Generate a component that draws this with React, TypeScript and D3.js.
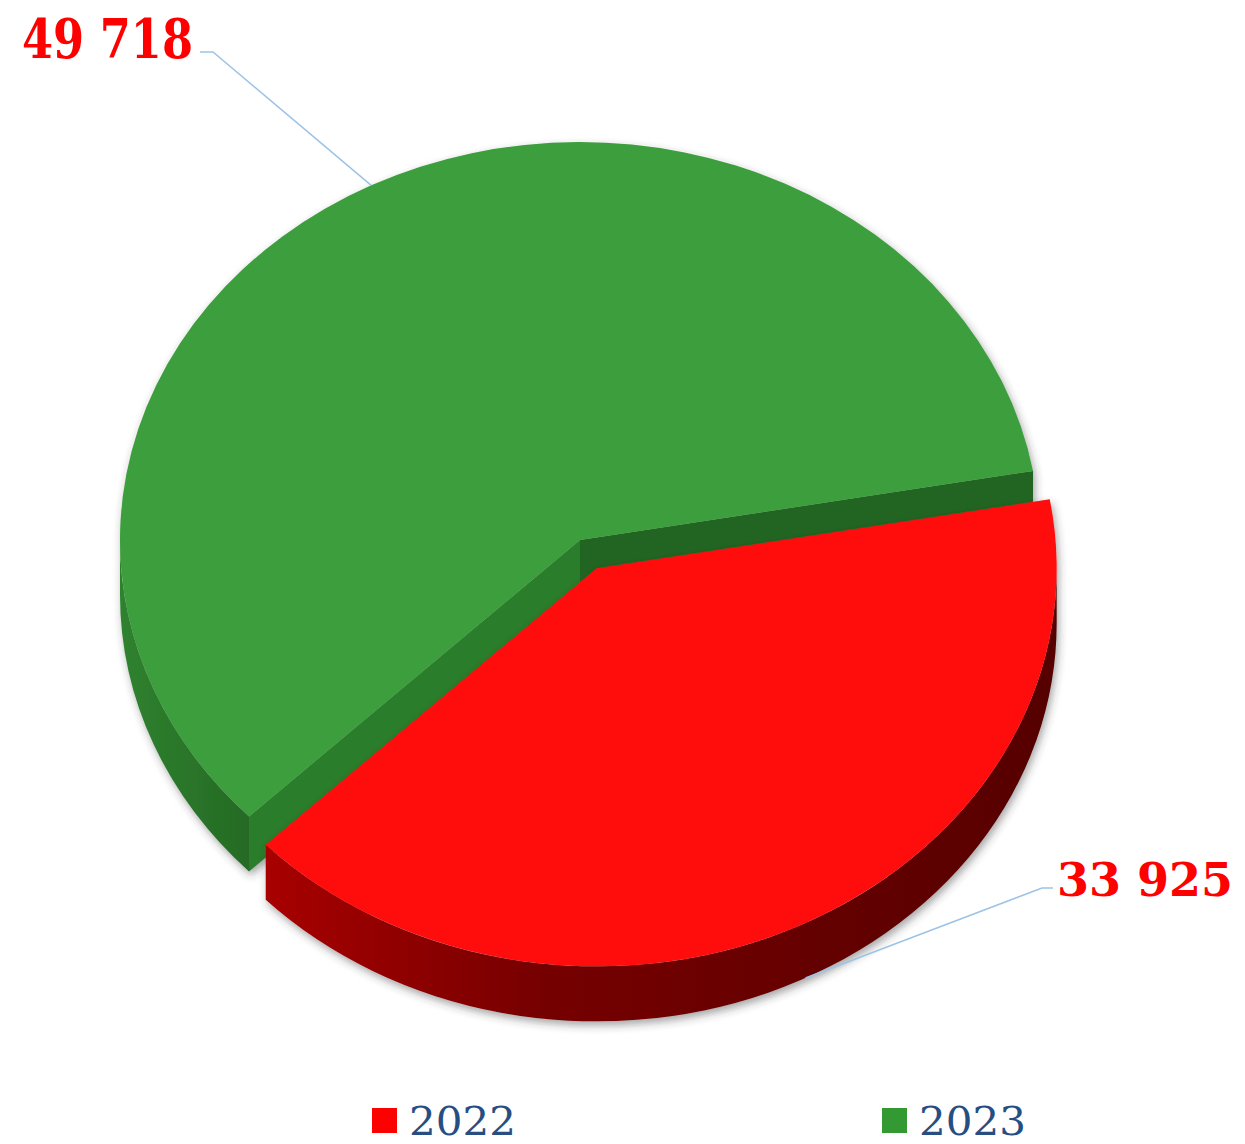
import React from "react";
import * as d3 from "d3";

const categories = ["2022", "2023"];
const values = [33925, 49718];
const labels = ["33 925", "49 718"];
const colors = ["#FF0D0D", "#3C9E3C"];
const legendColors = ["#FF0000", "#339933"];

const W = 1245;
const H = 1144;
const cx = 580;
const cy = 540;
const rx = 460;
const ry = 398;
const depth = 55;
const explodeK = 0.08;

function pt(ox: number, oy: number, t: number, dy = 0): [number, number] {
  return [ox + rx * Math.cos(t), oy + ry * Math.sin(t) + dy];
}

export default function App() {
  const pie = d3
    .pie<number>()
    .sort(null)
    .startAngle((80 * Math.PI) / 180)
    .endAngle((80 * Math.PI) / 180 + 2 * Math.PI)(values);

  const slices = pie.map((p, i) => {
    const t1 = p.startAngle - Math.PI / 2;
    const t2 = p.endAngle - Math.PI / 2;
    const m = (t1 + t2) / 2;
    const exploded = i === 0;
    const ox = cx + (exploded ? explodeK * rx * Math.cos(m) : 0);
    const oy = cy + (exploded ? explodeK * ry * Math.sin(m) : 0);
    return { i, t1, t2, m, ox, oy };
  });

  const topPath = (s: any) => {
    const a = pt(s.ox, s.oy, s.t1);
    const b = pt(s.ox, s.oy, s.t2);
    const large = s.t2 - s.t1 > Math.PI ? 1 : 0;
    return `M${s.ox},${s.oy}L${a[0]},${a[1]}A${rx},${ry} 0 ${large} 1 ${b[0]},${b[1]}Z`;
  };

  const outerWall = (s: any) => {
    const segs: [number, number][] = [];
    for (const off of [-2 * Math.PI, 0, 2 * Math.PI]) {
      const lo = Math.max(s.t1 + off, 0);
      const hi = Math.min(s.t2 + off, Math.PI);
      if (hi > lo) segs.push([lo, hi]);
    }
    return segs.map(([lo, hi]) => {
      const p1 = pt(s.ox, s.oy, lo);
      const p2 = pt(s.ox, s.oy, hi);
      const b2 = pt(s.ox, s.oy, hi, depth);
      const b1 = pt(s.ox, s.oy, lo, depth);
      return `M${p1[0]},${p1[1]}A${rx},${ry} 0 0 1 ${p2[0]},${p2[1]}L${b2[0]},${b2[1]}A${rx},${ry} 0 0 0 ${b1[0]},${b1[1]}Z`;
    });
  };

  const radialWall = (s: any, t: number) => {
    const p = pt(s.ox, s.oy, t);
    return `M${s.ox},${s.oy}L${p[0]},${p[1]}L${p[0]},${p[1] + depth}L${s.ox},${s.oy + depth}Z`;
  };

  const red = slices[0];
  const green = slices[1];

  const gAnchor = pt(green.ox, green.oy, green.m);
  const rAnchor = pt(red.ox, red.oy, red.m, depth);

  return (
    <svg
      width={W}
      height={H}
      style={{ position: "absolute", left: 0, top: 0, background: "#fff" }}
      xmlns="http://www.w3.org/2000/svg"
    >
      <defs>
        <linearGradient id="redWall" x1="0" x2="1" y1="0" y2="0">
          <stop offset="0%" stopColor="#A80000" />
          <stop offset="35%" stopColor="#760000" />
          <stop offset="100%" stopColor="#560000" />
        </linearGradient>
        <linearGradient id="greenWall" x1="0" x2="1" y1="0" y2="0">
          <stop offset="0%" stopColor="#2F822F" />
          <stop offset="100%" stopColor="#256A25" />
        </linearGradient>
        <filter id="shadow" x="-10%" y="-10%" width="120%" height="125%">
          <feDropShadow dx="2" dy="4" stdDeviation="4" floodColor="#333" floodOpacity="0.45" />
        </filter>
      </defs>

      <g filter="url(#shadow)">
        <path d={radialWall(green, green.t1)} fill="#2B7D2B" />
        <path d={radialWall(green, green.t2)} fill="#236523" />
        {outerWall(green).map((d, k) => (
          <path key={k} d={d} fill="url(#greenWall)" />
        ))}
        <path d={topPath(green)} fill={colors[1]} />
      </g>

      <g filter="url(#shadow)">
        {outerWall(red).map((d, k) => (
          <path key={k} d={d} fill="url(#redWall)" />
        ))}
        <path d={topPath(red)} fill={colors[0]} />
      </g>

      <polyline
        points={`200,52 213,52 ${gAnchor[0]},${gAnchor[1]}`}
        fill="none"
        stroke="#9DC3E6"
        strokeWidth={1.5}
      />
      <polyline
        points={`1053,888 1042,888 ${rAnchor[0]},${rAnchor[1]}`}
        fill="none"
        stroke="#9DC3E6"
        strokeWidth={1.5}
      />

      <text
        x={22}
        y={58}
        fontFamily="'DejaVu Serif', serif"
        fontWeight="bold"
        fontSize={54}
        fill="#FF0000"
        textLength={171}
        lengthAdjust="spacingAndGlyphs"
      >
        {labels[1]}
      </text>
      <text
        x={1057}
        y={896}
        fontFamily="'DejaVu Serif', serif"
        fontWeight="bold"
        fontSize={47}
        fill="#FF0000"
        textLength={176}
        lengthAdjust="spacingAndGlyphs"
      >
        {labels[0]}
      </text>

      {categories.map((c, i) => {
        const lx = [372, 882][i];
        return (
          <g key={c}>
            <rect x={lx} y={1108} width={25} height={25} fill={legendColors[i]} />
            <text
              x={lx + 37}
              y={1135}
              fontFamily="'DejaVu Serif', serif"
              fontSize={40}
              fill="#264E82"
              textLength={107}
              lengthAdjust="spacingAndGlyphs"
            >
              {c}
            </text>
          </g>
        );
      })}
    </svg>
  );
}
